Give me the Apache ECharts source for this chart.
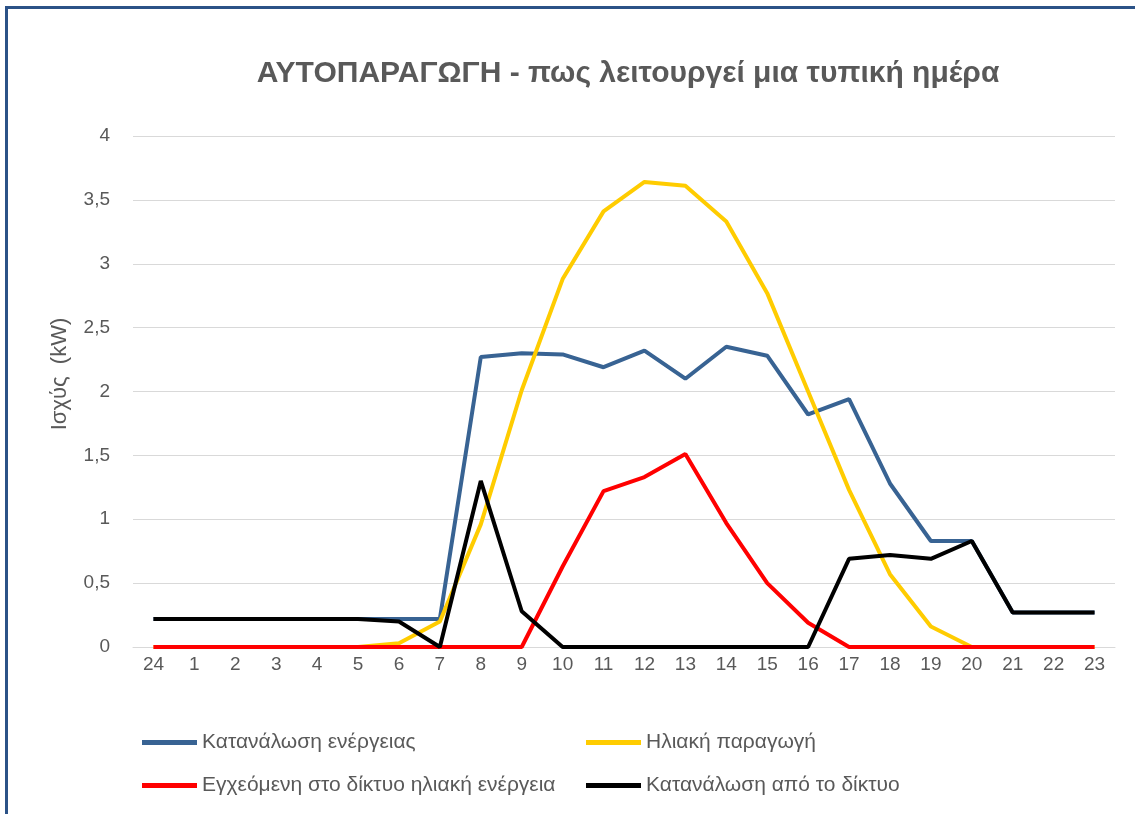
<!DOCTYPE html>
<html>
<head>
<meta charset="utf-8">
<script src="https://cdn.jsdelivr.net/npm/echarts@6/dist/echarts.min.js"></script>
<style>
  html, body { margin: 0; padding: 0; background: #fff; }
  #chart { width: 1135px; height: 814px; }
</style>
</head>
<body>
<div id="chart"></div>
<script>
const hours = ['24', '1', '2', '3', '4', '5', '6', '7', '8', '9', '10', '11',
  '12', '13', '14', '15', '16', '17', '18', '19', '20', '21', '22', '23'];

const consumption = [0.22, 0.22, 0.22, 0.22, 0.22, 0.22, 0.22, 0.22, 2.27, 2.30, 2.29, 2.19,
  2.32, 2.10, 2.35, 2.28, 1.82, 1.94, 1.28, 0.83, 0.83, 0.27, 0.27, 0.27];
const solar = [0, 0, 0, 0, 0, 0, 0.03, 0.20, 0.96, 2.01, 2.88, 3.41,
  3.64, 3.61, 3.33, 2.77, 2.00, 1.23, 0.57, 0.16, 0, 0, 0, 0];
const injected = [0, 0, 0, 0, 0, 0, 0, 0, 0, 0, 0.63, 1.22,
  1.33, 1.51, 0.97, 0.50, 0.19, 0, 0, 0, 0, 0, 0, 0];
const fromGrid = [0.22, 0.22, 0.22, 0.22, 0.22, 0.22, 0.20, 0, 1.30, 0.28, 0, 0,
  0, 0, 0, 0, 0, 0.69, 0.72, 0.69, 0.83, 0.27, 0.27, 0.27];

const txt = '#595959';
const font = 'Liberation Sans';

const chart = echarts.init(document.getElementById('chart'));

function line(name, data, color) {
  return {
    name: name,
    type: 'line',
    data: data,
    symbol: 'none',
    lineStyle: { color: color, width: 4 },
    itemStyle: { color: color },
    animation: false
  };
}

const legendBase = {
  orient: 'vertical',
  top: 727,
  itemGap: 22,
  itemWidth: 55,
  itemHeight: 5,
  itemTextGap: 5,
  icon: 'rect',
  textStyle: { color: txt, fontSize: 21, fontFamily: font }
};

chart.setOption({
  backgroundColor: '#fff',
  textStyle: { fontFamily: font },
  title: {
    text: 'ΑΥΤΟΠΑΡΑΓΩΓΗ - πως λειτουργεί μια τυπική ημέρα',
    left: 623,
    top: 54,
    textAlign: 'center',
    textStyle: { color: txt, fontSize: 30, fontWeight: 'bold', fontFamily: font }
  },
  legend: [
    Object.assign({}, legendBase, {
      left: 137,
      data: ['Κατανάλωση ενέργειας', 'Εγχεόμενη στο δίκτυο ηλιακή ενέργεια']
    }),
    Object.assign({}, legendBase, {
      left: 581,
      data: ['Ηλιακή παραγωγή', 'Κατανάλωση από το δίκτυο']
    })
  ],
  grid: { left: 133, right: 20, top: 136, bottom: 167 },
  xAxis: {
    type: 'category',
    data: hours,
    boundaryGap: true,
    axisLine: { lineStyle: { color: '#d9d9d9', width: 1 } },
    axisTick: { show: false },
    axisLabel: { color: txt, fontSize: 19, margin: 8 }
  },
  yAxis: {
    type: 'value',
    min: 0,
    max: 4,
    interval: 0.5,
    axisLine: { show: false },
    axisTick: { show: false },
    splitLine: { lineStyle: { color: '#d9d9d9', width: 1 } },
    axisLabel: {
      color: txt,
      fontSize: 19,
      margin: 23,
      formatter: (v) => String(v).replace('.', ',')
    }
  },
  graphic: [
    {
      type: 'text',
      x: 60,
      y: 374,
      rotation: Math.PI / 2,
      style: {
        text: 'Ισχύς  (kW)',
        fill: txt,
        font: '22px ' + font,
        textAlign: 'center',
        textVerticalAlign: 'middle'
      }
    },
    { type: 'rect', shape: { x: 5, y: 6, width: 1130, height: 3 }, style: { fill: '#2b5287' } },
    { type: 'rect', shape: { x: 5, y: 6, width: 3, height: 808 }, style: { fill: '#2b5287' } }
  ],
  series: [
    line('Κατανάλωση ενέργειας', consumption, '#386393'),
    line('Ηλιακή παραγωγή', solar, '#ffcc00'),
    line('Εγχεόμενη στο δίκτυο ηλιακή ενέργεια', injected, '#ff0000'),
    line('Κατανάλωση από το δίκτυο', fromGrid, '#000000')
  ]
});
</script>
</body>
</html>
